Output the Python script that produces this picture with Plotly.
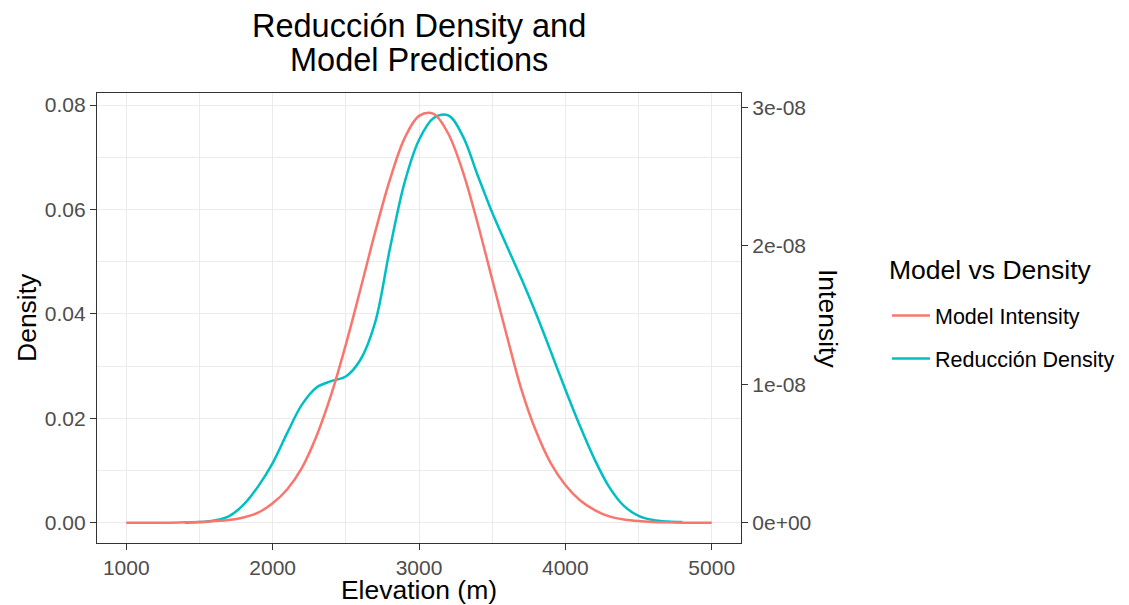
import plotly.graph_objects as go

# ---------------- data ----------------
elevation = [1000, 1100, 1200, 1300, 1400, 1500, 1600, 1700, 1800, 1900,
             2000, 2100, 2200, 2300, 2400, 2500, 2600, 2700, 2800, 2900,
             3000, 3100, 3200, 3300, 3400, 3500, 3600, 3700, 3800, 3900,
             4000, 4100, 4200, 4300, 4400, 4500, 4600, 4700, 4800, 4900, 5000]

model_intensity = [0.0, 0.0, 0.0, 0.0, 2e-11, 4e-11, 1.13e-10, 1.89e-10, 3.77e-10, 7.17e-10,
                   1.396e-09, 2.415e-09, 3.962e-09, 6.264e-09, 9.245e-09, 1.287e-08, 1.687e-08, 2.098e-08, 2.475e-08, 2.774e-08,
                   2.940e-08, 2.955e-08, 2.811e-08, 2.536e-08, 2.166e-08, 1.759e-08, 1.351e-08, 9.62e-09, 6.60e-09, 4.30e-09,
                   2.72e-09, 1.62e-09, 9.1e-10, 4.5e-10, 2.3e-10, 1.1e-10, 5e-11, 2e-11, 0.0, 0.0, 0.0]

dens_elevation = [1400, 1500, 1600, 1700, 1800, 1900,
                  2000, 2100, 2200, 2300, 2400, 2500, 2600, 2700, 2800, 2900,
                  3000, 3100, 3200, 3300, 3400, 3500, 3600, 3700, 3800, 3900,
                  4000, 4100, 4200, 4300, 4400, 4500, 4600, 4700, 4800]
reduccion_density = [0.0, 0.0001, 0.0004, 0.0012, 0.0034, 0.0069,
                     0.0114, 0.0172, 0.0226, 0.0259, 0.0271, 0.0280, 0.0312, 0.0383, 0.0523, 0.0650,
                     0.0733, 0.0775, 0.0780, 0.0740, 0.0666, 0.0594, 0.0530, 0.0467, 0.0400, 0.0328,
                     0.0255, 0.0185, 0.0121, 0.0068, 0.0032, 0.0013, 0.0005, 0.0002, 0.0001]

x_ticks = [1000, 2000, 3000, 4000, 5000]
y_ticks = [0.00, 0.02, 0.04, 0.06, 0.08]
y2_ticks = [0, 1e-08, 2e-08, 3e-08]
y2_ticklabels = ["0e+00", "1e-08", "2e-08", "3e-08"]
title_lines = ["Reducción Density and", "Model Predictions"]

scale_k = 2.65e6          # secondary-axis transform (density = intensity * k)
y_range = [-0.0039, 0.0823]

FONT = "Liberation Sans, Arial, sans-serif"
RED = "#F8766D"
CYAN = "#00BFC4"
GRID = "#EBEBEB"
TICKC = "#4D4D4D"
BORDER = "#333333"

# page body margin of the browser (figure is drawn 8px in from the window corner)
OFF = 8
W, H = 1129 - OFF, 605 - OFF
# panel geometry in reference-window pixels
L, R, T, B = 97, 741, 93, 543
PW, PH = R - L, B - T


def px_x(p):
    return (p - L) / PW


def px_y(p):
    return (B - p) / PH


fig = go.Figure()
fig.add_trace(go.Scatter(
    x=dens_elevation, y=reduccion_density, mode="lines", name="Reducción Density",
    line=dict(color=CYAN, width=2.5, shape="spline", smoothing=1.0),
    legendgroup="b", legendrank=2, yaxis="y"))
fig.add_trace(go.Scatter(
    x=elevation, y=model_intensity, mode="lines", name="Model Intensity",
    line=dict(color=RED, width=2.5, shape="spline", smoothing=1.0),
    legendgroup="a", legendrank=1, yaxis="y2"))

annotations = [
    dict(text=title_lines[0], x=px_x((L + R) / 2), y=px_y(26), xref="paper", yref="paper",
         showarrow=False, xanchor="center", yanchor="middle",
         font=dict(size=32.5, color="black", family=FONT)),
    dict(text=title_lines[1], x=px_x((L + R) / 2), y=px_y(60), xref="paper", yref="paper",
         showarrow=False, xanchor="center", yanchor="middle",
         font=dict(size=32.5, color="black", family=FONT)),
    dict(text="Density", x=px_x(27), y=0.5, xref="paper", yref="paper",
         textangle=-90, showarrow=False, xanchor="center", yanchor="middle",
         font=dict(size=26.5, color="black", family=FONT)),
    dict(text="Intensity", x=px_x(828), y=0.5, xref="paper", yref="paper",
         textangle=90, showarrow=False, xanchor="center", yanchor="middle",
         font=dict(size=26.5, color="black", family=FONT)),
    dict(text="Model vs Density", x=px_x(887), y=px_y(270), xref="paper", yref="paper",
         showarrow=False, xanchor="left", yanchor="middle",
         font=dict(size=26.5, color="black", family=FONT)),
]

fig.update_layout(
    width=W, height=H,
    margin=dict(l=L - OFF, r=W - (R - OFF), t=T - OFF, b=H - (B - OFF), autoexpand=False),
    paper_bgcolor="white", plot_bgcolor="white",
    font=dict(family=FONT, color="black"),
    xaxis=dict(range=[800, 5200], tickvals=x_ticks, ticktext=[str(v) for v in x_ticks],
               automargin=False,
               showgrid=True, gridcolor=GRID, gridwidth=1.2, zeroline=False,
               minor=dict(dtick=500, tick0=1000, showgrid=True, gridcolor=GRID, gridwidth=0.6),
               ticks="outside", ticklen=6, tickwidth=1.2, tickcolor=BORDER,
               tickfont=dict(size=21, color=TICKC, family=FONT),
               showline=True, linecolor=BORDER, linewidth=1.2, mirror=True,
               title=dict(text="Elevation (m)", font=dict(size=26.5, color="black", family=FONT), standoff=8)),
    yaxis=dict(range=y_range, tickvals=y_ticks, ticktext=["%.2f" % v for v in y_ticks],
               automargin=False,
               showgrid=True, gridcolor=GRID, gridwidth=1.2, zeroline=False,
               minor=dict(dtick=0.01, tick0=0, showgrid=True, gridcolor=GRID, gridwidth=0.6),
               ticks="outside", ticklen=6, tickwidth=1.2, tickcolor=BORDER,
               tickfont=dict(size=21, color=TICKC, family=FONT),
               showline=True, linecolor=BORDER, linewidth=1.2, mirror=False),
    yaxis2=dict(range=[y_range[0] / scale_k, y_range[1] / scale_k], overlaying="y", side="right",
                automargin=False,
                tickvals=y2_ticks, ticktext=y2_ticklabels, showgrid=False, zeroline=False,
                ticks="outside", ticklen=6, tickwidth=1.2, tickcolor=BORDER,
                tickfont=dict(size=21, color=TICKC, family=FONT),
                showline=True, linecolor=BORDER, linewidth=1.2),
    legend=dict(x=px_x(887), xanchor="left", y=px_y(295), yanchor="top",
                font=dict(size=21.5, color="black", family=FONT),
                itemwidth=38, tracegroupgap=12, traceorder="grouped",
                bgcolor="rgba(0,0,0,0)"),
    annotations=annotations,
)

fig.write_html("out.html")
